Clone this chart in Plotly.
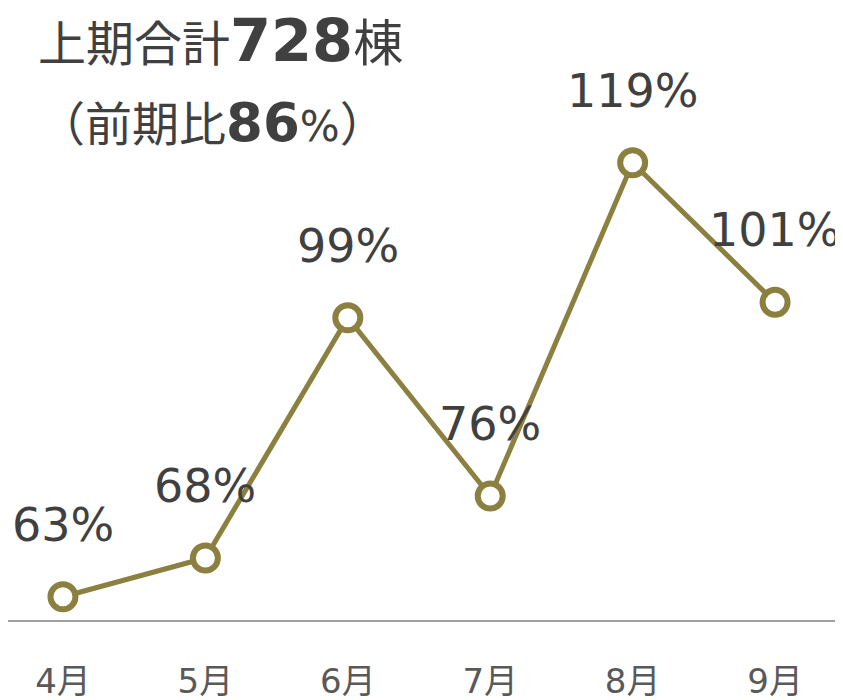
import plotly.graph_objects as go

months = ["4月", "5月", "6月", "7月", "8月", "9月"]
ratios = [63, 68, 99, 76, 119, 101]
labels = ["63%", "68%", "99%", "76%", "119%", "101%"]

OLIVE = "#8B8040"
TEXT = "#404040"
FONT = "DejaVu Sans, Verdana, Noto Sans CJK JP, sans-serif"

# the page body adds an 8px margin, so the figure is sized to fit inside it
W, H = 835, 692
PLOT_H = 612

x_idx = list(range(len(months)))

fig = go.Figure()

fig.add_trace(
    go.Scatter(
        x=x_idx,
        y=ratios,
        mode="lines+markers",
        line=dict(color=OLIVE, width=5),
        marker=dict(size=25, color="white", line=dict(color=OLIVE, width=6)),
        hoverinfo="skip",
    )
)

# value labels above each point
for xi, v, t in zip(x_idx, ratios, labels):
    fig.add_annotation(
        x=xi, y=v, text=t, showarrow=False,
        yshift=72, yanchor="middle",
        font=dict(family=FONT, size=46, color=TEXT),
    )

# headline
fig.add_annotation(
    xref="paper", yref="paper", x=28 / W, y=1.0 - 32 / PLOT_H,
    xanchor="left", yanchor="middle", showarrow=False,
    text="<span style='font-size:48px'>上期合計</span>"
         "<b style='font-size:59px'>728</b>"
         "<span style='font-size:50px'>棟</span>",
    font=dict(family=FONT, color=TEXT),
)
fig.add_annotation(
    xref="paper", yref="paper", x=28 / W, y=1.0 - 114 / PLOT_H,
    xanchor="left", yanchor="middle", showarrow=False,
    text="<span style='font-size:47px'>（前期比</span>"
         "<b style='font-size:53px'>86</b>"
         "<span style='font-size:42px'>%</span>"
         "<span style='font-size:47px'>）</span>",
    font=dict(family=FONT, color=TEXT),
)

fig.update_layout(
    width=W,
    height=H,
    margin=dict(l=0, r=0, t=0, b=H - PLOT_H),
    paper_bgcolor="white",
    plot_bgcolor="white",
    showlegend=False,
    xaxis=dict(
        range=[-0.386, 5.477],
        tickvals=x_idx,
        ticktext=months,
        automargin=False,
        showgrid=False,
        zeroline=False,
        showline=True,
        linecolor="#a0a0a0",
        linewidth=2,
        ticks="outside",
        ticklen=30,
        tickcolor="rgba(0,0,0,0)",
        tickfont=dict(family=FONT, size=34, color="#595959"),
    ),
    yaxis=dict(
        range=[60, 60 + PLOT_H / 7.75],
        visible=False,
        automargin=False,
        showgrid=False,
        zeroline=False,
    ),
)

fig.write_html("out.html")
